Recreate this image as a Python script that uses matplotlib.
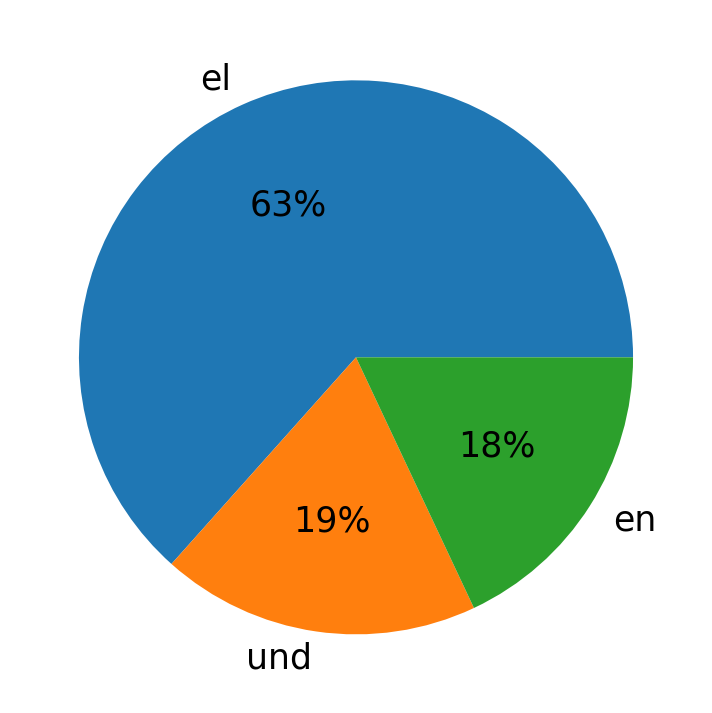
import matplotlib.pyplot as plt

labels = ["el", "und", "en"]
counts = [634, 186, 180]

fig = plt.figure(figsize=(7.12, 7.13), dpi=100)
ax = fig.add_axes([0, 0, 1, 1])

ax.pie(counts, labels=labels, autopct="%1.0f%%", textprops={"fontsize": 25})

ax.set_aspect("auto")
ax.set_xlim(-1.285, 1.285)
ax.set_ylim(-1.284, 1.290)
ax.axis("off")

plt.savefig("out.png", dpi=100)
